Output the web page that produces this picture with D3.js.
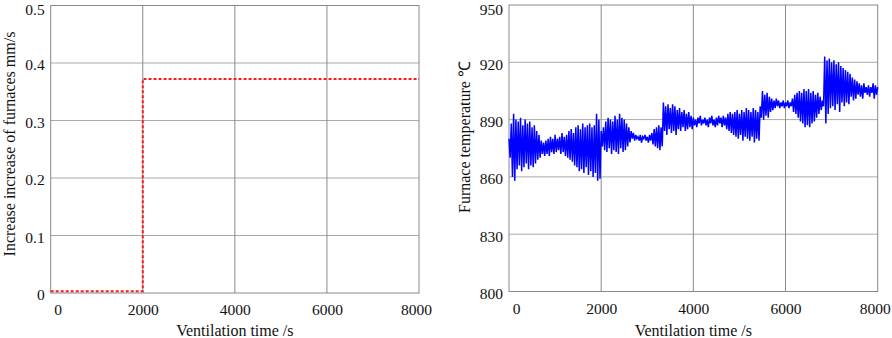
<!DOCTYPE html>
<html>
<head>
<meta charset="utf-8">
<script src="https://d3js.org/d3.v7.min.js"></script>
<style>
  body { margin: 0; background: #fff; }
  svg text { font-family: "Liberation Serif", "Times New Roman", serif; fill: #111; }
</style>
</head>
<body>
<svg id="chart" width="892" height="338"></svg>
<script>
// ---- data ----
const xTicks = [0, 2000, 4000, 6000, 8000];
const rateTicks = [0, 0.1, 0.2, 0.3, 0.4, 0.5];
const tempTicks = [800, 830, 860, 890, 920, 950];

// furnace increase step (left panel)
const stepTimes = [0, 2000, 2000, 8000];
const stepValues = [0.003, 0.003, 0.372, 0.372];

// furnace temperature, upper peaks every 50 s starting at 0 s
const tempHigh = [
  880, 888, 893, 890, 889, 891, 887, 890, 888, 889,
  886, 887, 884, 882, 879, 878, 879, 880, 881, 880,
  882, 880, 881, 883, 881, 882, 884, 885, 883, 886,
  887, 885, 888, 886, 887, 888, 886, 887, 893, 890,
  884, 886, 889, 891, 890, 889, 892, 890, 893, 891,
  890, 888, 886, 884, 883, 882, 881, 882, 881, 882,
  881, 882, 883, 885, 886, 887, 886, 899, 897, 898,
  896, 898, 897, 895, 896, 894, 895, 893, 894, 892,
  891, 890, 891, 892, 890, 891, 890, 891, 892, 890,
  891, 892, 891, 892, 891, 893, 894, 893, 894, 895,
  893, 895, 894, 896, 895, 894, 896, 895, 894, 897,
  905, 903, 904, 902, 901, 900, 901, 900, 899, 900,
  899, 900, 899, 901, 903, 904, 905, 904, 906, 905,
  906, 904, 905, 903, 904, 902, 900, 923, 921, 922,
  920, 921, 919, 920, 918, 917, 916, 915, 914, 912,
  911, 910, 909, 908, 909, 907, 908, 907, 909, 908,
  907
];
// lower troughs every 50 s starting at 25 s
const tempLow = [
  870, 860, 858, 864, 866, 863, 865, 867, 864, 866,
  865, 867, 869, 870, 872, 871, 872, 871, 873, 872,
  873, 874, 872, 873, 871, 870, 869, 868, 866, 865,
  863, 864, 862, 865, 861, 863, 860, 862, 858, 859,
  876, 874, 873, 875, 872, 874, 873, 872, 875, 873,
  874, 876, 878, 880, 879, 880, 879, 878, 880, 879,
  878, 879, 877, 876, 875, 874, 876, 884, 882, 885,
  883, 884, 882, 885, 884, 886, 884, 885, 886, 885,
  887, 886, 888, 887, 888, 887, 886, 888, 887, 886,
  887, 888, 886, 887, 885, 884, 883, 882, 881, 880,
  882, 879, 881, 880, 879, 881, 878, 880, 879, 891,
  890, 892, 891, 894, 895, 896, 897, 896, 897, 896,
  897, 896, 897, 894, 893, 891, 889, 888, 886, 887,
  886, 888, 889, 891, 893, 895, 897, 888, 893, 896,
  897, 895, 898, 894, 899, 897, 899, 898, 902, 900,
  901, 903, 902, 901, 904, 903, 902, 904, 901, 903
];
const peakStep = 50;

const svg = d3.select('#chart');
svg.append('rect').attr('width', 892).attr('height', 338).attr('fill', '#fff');

function panel(opts) {
  const x = d3.scaleLinear().domain([0, 8000]).range([opts.left, opts.right]);
  const y = d3.scaleLinear().domain(opts.yDomain).range([opts.bottom, opts.top]);
  const g = svg.append('g');

  // grid
  g.append('g').selectAll('line')
    .data(opts.yTicks.slice(1, -1))
    .join('line')
    .attr('x1', opts.left).attr('x2', opts.right)
    .attr('y1', d => y(d)).attr('y2', d => y(d))
    .attr('stroke', '#aaa').attr('stroke-width', 1);
  g.append('g').selectAll('line')
    .data(xTicks.slice(1, -1))
    .join('line')
    .attr('x1', d => x(d)).attr('x2', d => x(d))
    .attr('y1', opts.top).attr('y2', opts.bottom)
    .attr('stroke', '#8a8a8a').attr('stroke-width', 1);

  // frame
  g.append('rect')
    .attr('x', opts.left).attr('y', opts.top)
    .attr('width', opts.right - opts.left).attr('height', opts.bottom - opts.top)
    .attr('fill', 'none').attr('stroke', '#888').attr('stroke-width', 1);

  // axes (labels only)
  const xa = g.append('g')
    .attr('transform', 'translate(0,' + opts.bottom + ')')
    .call(d3.axisBottom(x).tickValues(xTicks).tickSize(0).tickPadding(11).tickFormat(d3.format('d')));
  xa.select('.domain').remove();
  xa.selectAll('text').attr('font-size', 15.5)
    .attr('dx', d => d === 0 ? 7 : (d === 8000 ? -3 : 0));

  const top = opts.yTicks[opts.yTicks.length - 1];
  const ya = g.append('g')
    .attr('transform', 'translate(' + opts.left + ',0)')
    .call(d3.axisLeft(y).tickValues(opts.yTicks).tickSize(0).tickPadding(6).tickFormat(opts.fmt));
  ya.select('.domain').remove();
  ya.selectAll('text').attr('font-size', 15.5)
    .attr('dy', d => d === top ? '0.6em' : '0.45em');

  // axis titles
  g.append('text')
    .attr('x', (opts.left + opts.right) / 2)
    .attr('y', 336)
    .attr('text-anchor', 'middle')
    .attr('font-size', 16)
    .text('Ventilation time /s');
  g.append('text')
    .attr('transform', 'translate(' + opts.ylabX + ',' + opts.ylabY + ') rotate(-90)')
    .attr('text-anchor', 'middle')
    .attr('font-size', 16)
    .text(opts.ylab);

  return { x, y, g };
}

// left: furnace increase
const p1 = panel({
  left: 50.7, right: 419, top: 5.5, bottom: 293,
  yDomain: [0, 0.5], yTicks: rateTicks,
  fmt: d => d === 0 ? '0' : d3.format('.1f')(d),
  ylab: 'Increase increase of furnaces mm/s', ylabX: 14.5, ylabY: 144
});
const stepData = stepTimes.map((t, i) => [t, stepValues[i]]);
p1.g.append('path')
  .datum(stepData)
  .attr('fill', 'none')
  .attr('stroke', '#ff1a1a')
  .attr('stroke-width', 2)
  .attr('stroke-dasharray', '3,2')
  .attr('d', d3.line().x(d => p1.x(d[0])).y(d => p1.y(d[1])));

// right: furnace temperature
const p2 = panel({
  left: 509, right: 877.7, top: 5, bottom: 291.5,
  yDomain: [800, 950], yTicks: tempTicks,
  fmt: d3.format('d'),
  ylab: 'Furnace temperature \u2103', ylabX: 470, ylabY: 137
});
const tempData = [];
tempHigh.forEach((v, i) => {
  tempData.push([i * peakStep, v]);
  if (i < tempLow.length) tempData.push([i * peakStep + peakStep / 2, tempLow[i]]);
});
p2.g.append('path')
  .datum(tempData)
  .attr('fill', 'none')
  .attr('stroke', '#0000ff')
  .attr('stroke-width', 1.5)
  .attr('stroke-linejoin', 'miter')
  .attr('d', d3.line().x(d => p2.x(d[0])).y(d => p2.y(d[1])));
</script>
</body>
</html>
